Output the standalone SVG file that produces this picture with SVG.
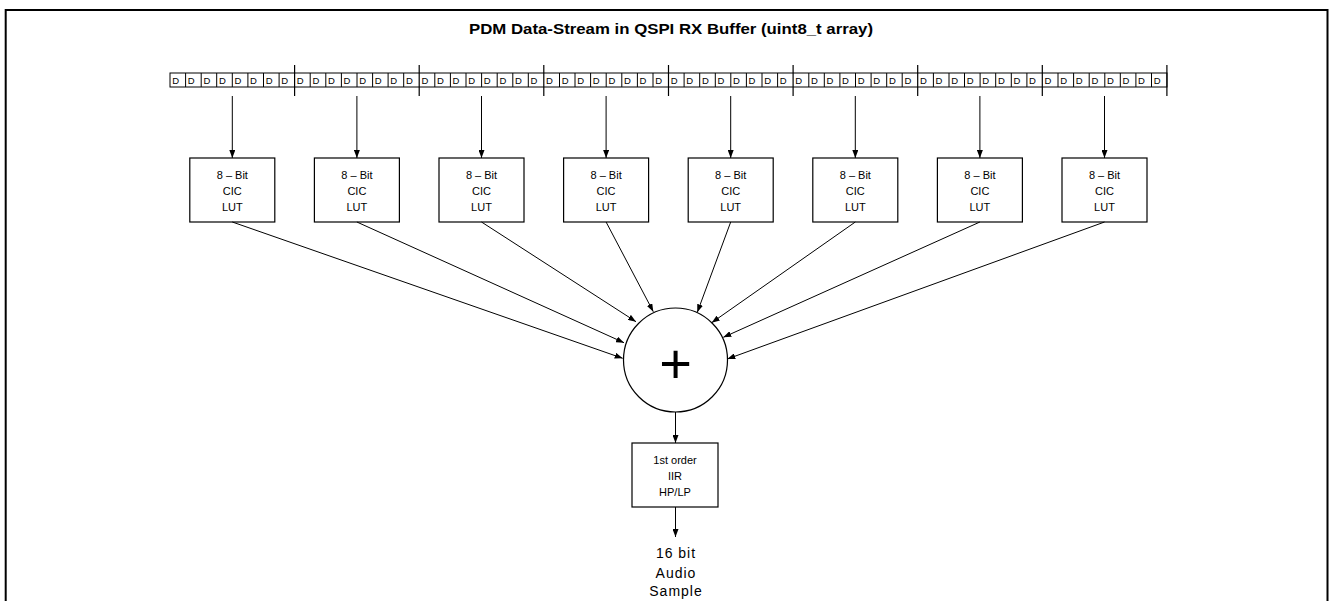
<svg xmlns="http://www.w3.org/2000/svg" width="1330" height="601" viewBox="0 0 1330 601">
  <defs>
    <marker id="ah" viewBox="0 0 8 6" refX="8" refY="3" markerWidth="8" markerHeight="6" markerUnits="userSpaceOnUse" orient="auto">
      <path d="M0,0 L8,3 L0,6 z" fill="#000"/>
    </marker>
  </defs>
  <style>
    .frame { fill: none; stroke: #000; stroke-width: 2; }
    .cell { fill: #fff; stroke: #000; stroke-width: 1; }
    .sep { stroke: #000; stroke-width: 1.2; }
    .box { fill: #fff; stroke: #000; stroke-width: 1.2; }
    .conn { stroke: #000; stroke-width: 1; fill: none; marker-end: url(#ah); }
    .d { font-family: "Liberation Sans", Arial, sans-serif; font-size: 9.5px; fill: #000; }
    .lbl { font-family: "Liberation Sans", Arial, sans-serif; font-size: 11px; fill: #000; text-anchor: middle; }
    .title { font-family: "Liberation Sans", Arial, sans-serif; font-size: 14.5px; font-weight: bold; fill: #000; text-anchor: middle; }
    .out { font-family: "Liberation Sans", Arial, sans-serif; font-size: 14px; fill: #000; text-anchor: middle; letter-spacing: 1px; }
  </style>
  <rect class="frame" x="5.7" y="10" width="1321.8" height="620"/>
  <text class="title" x="671" y="34" textLength="404" lengthAdjust="spacingAndGlyphs">PDM Data-Stream in QSPI RX Buffer (uint8_t array)</text>

  <g id="buffer">
    <g id="cells">
      <rect class="cell" x="170" y="73" width="997" height="14"/>
      <path stroke="#000" stroke-width="1" d="M185.6,73V87M201.2,73V87M216.7,73V87M232.3,73V87M247.9,73V87M263.5,73V87M279.1,73V87M310.2,73V87M325.8,73V87M341.4,73V87M357,73V87M372.6,73V87M388.1,73V87M403.7,73V87M434.8,73V87M450.4,73V87M466,73V87M481.6,73V87M497.2,73V87M512.8,73V87M528.3,73V87M559.5,73V87M575,73V87M590.6,73V87M606.2,73V87M621.8,73V87M637.4,73V87M653,73V87M684.1,73V87M699.7,73V87M715.3,73V87M730.8,73V87M746.4,73V87M762,73V87M777.6,73V87M808.8,73V87M824.3,73V87M839.9,73V87M855.5,73V87M871.1,73V87M886.7,73V87M902.2,73V87M933.4,73V87M949,73V87M964.5,73V87M980.1,73V87M995.7,73V87M1011.3,73V87M1026.9,73V87M1058,73V87M1073.6,73V87M1089.2,73V87M1104.8,73V87M1120.3,73V87M1135.9,73V87M1151.5,73V87"/>
    </g>
    <g id="separators">
      <path class="sep" d="M294.6,65V96M419.2,65V96M543.8,65V96M668.5,65V96M793.1,65V96M917.7,65V96M1042.3,65V96M1166.9,65V96"/>
    </g>
    <g id="bits">
      <text class="d" x="172.2" y="83.6">D</text><text class="d" x="187.8" y="83.6">D</text><text class="d" x="203.4" y="83.6">D</text><text class="d" x="218.9" y="83.6">D</text><text class="d" x="234.5" y="83.6">D</text><text class="d" x="250.1" y="83.6">D</text><text class="d" x="265.7" y="83.6">D</text><text class="d" x="281.3" y="83.6">D</text>
      <text class="d" x="296.8" y="83.6">D</text><text class="d" x="312.4" y="83.6">D</text><text class="d" x="328" y="83.6">D</text><text class="d" x="343.6" y="83.6">D</text><text class="d" x="359.2" y="83.6">D</text><text class="d" x="374.8" y="83.6">D</text><text class="d" x="390.3" y="83.6">D</text><text class="d" x="405.9" y="83.6">D</text>
      <text class="d" x="421.4" y="83.6">D</text><text class="d" x="437" y="83.6">D</text><text class="d" x="452.6" y="83.6">D</text><text class="d" x="468.2" y="83.6">D</text><text class="d" x="483.8" y="83.6">D</text><text class="d" x="499.4" y="83.6">D</text><text class="d" x="515" y="83.6">D</text><text class="d" x="530.5" y="83.6">D</text>
      <text class="d" x="546" y="83.6">D</text><text class="d" x="561.7" y="83.6">D</text><text class="d" x="577.2" y="83.6">D</text><text class="d" x="592.8" y="83.6">D</text><text class="d" x="608.4" y="83.6">D</text><text class="d" x="624" y="83.6">D</text><text class="d" x="639.6" y="83.6">D</text><text class="d" x="655.2" y="83.6">D</text>
      <text class="d" x="670.7" y="83.6">D</text><text class="d" x="686.3" y="83.6">D</text><text class="d" x="701.9" y="83.6">D</text><text class="d" x="717.5" y="83.6">D</text><text class="d" x="733" y="83.6">D</text><text class="d" x="748.6" y="83.6">D</text><text class="d" x="764.2" y="83.6">D</text><text class="d" x="779.8" y="83.6">D</text>
      <text class="d" x="795.3" y="83.6">D</text><text class="d" x="811" y="83.6">D</text><text class="d" x="826.5" y="83.6">D</text><text class="d" x="842.1" y="83.6">D</text><text class="d" x="857.7" y="83.6">D</text><text class="d" x="873.3" y="83.6">D</text><text class="d" x="888.9" y="83.6">D</text><text class="d" x="904.4" y="83.6">D</text>
      <text class="d" x="919.9" y="83.6">D</text><text class="d" x="935.6" y="83.6">D</text><text class="d" x="951.2" y="83.6">D</text><text class="d" x="966.7" y="83.6">D</text><text class="d" x="982.3" y="83.6">D</text><text class="d" x="997.9" y="83.6">D</text><text class="d" x="1013.5" y="83.6">D</text><text class="d" x="1029.1" y="83.6">D</text>
      <text class="d" x="1044.5" y="83.6">D</text><text class="d" x="1060.2" y="83.6">D</text><text class="d" x="1075.8" y="83.6">D</text><text class="d" x="1091.4" y="83.6">D</text><text class="d" x="1107" y="83.6">D</text><text class="d" x="1122.5" y="83.6">D</text><text class="d" x="1138.1" y="83.6">D</text><text class="d" x="1153.7" y="83.6">D</text>
    </g>
  </g>

  <g id="lut1"><rect class="box" x="189.8" y="158" width="85" height="64"/><text class="lbl" x="232.3" y="179">8 – Bit</text><text class="lbl" x="232.3" y="195">CIC</text><text class="lbl" x="232.3" y="211">LUT</text></g>
  <g id="lut2"><rect class="box" x="314.4" y="158" width="85" height="64"/><text class="lbl" x="356.9" y="179">8 – Bit</text><text class="lbl" x="356.9" y="195">CIC</text><text class="lbl" x="356.9" y="211">LUT</text></g>
  <g id="lut3"><rect class="box" x="439" y="158" width="85" height="64"/><text class="lbl" x="481.5" y="179">8 – Bit</text><text class="lbl" x="481.5" y="195">CIC</text><text class="lbl" x="481.5" y="211">LUT</text></g>
  <g id="lut4"><rect class="box" x="563.6" y="158" width="85" height="64"/><text class="lbl" x="606.1" y="179">8 – Bit</text><text class="lbl" x="606.1" y="195">CIC</text><text class="lbl" x="606.1" y="211">LUT</text></g>
  <g id="lut5"><rect class="box" x="688.2" y="158" width="85" height="64"/><text class="lbl" x="730.7" y="179">8 – Bit</text><text class="lbl" x="730.7" y="195">CIC</text><text class="lbl" x="730.7" y="211">LUT</text></g>
  <g id="lut6"><rect class="box" x="812.8" y="158" width="85" height="64"/><text class="lbl" x="855.3" y="179">8 – Bit</text><text class="lbl" x="855.3" y="195">CIC</text><text class="lbl" x="855.3" y="211">LUT</text></g>
  <g id="lut7"><rect class="box" x="937.4" y="158" width="85" height="64"/><text class="lbl" x="979.9" y="179">8 – Bit</text><text class="lbl" x="979.9" y="195">CIC</text><text class="lbl" x="979.9" y="211">LUT</text></g>
  <g id="lut8"><rect class="box" x="1062" y="158" width="85" height="64"/><text class="lbl" x="1104.5" y="179">8 – Bit</text><text class="lbl" x="1104.5" y="195">CIC</text><text class="lbl" x="1104.5" y="211">LUT</text></g>

  <g id="sum">
    <circle cx="675.5" cy="360" r="52" fill="#fff" stroke="#000" stroke-width="1.2"/>
    <text x="675.5" y="383" font-family="Liberation Sans, Arial, sans-serif" font-size="56" text-anchor="middle">+</text>
  </g>

  <g id="iir"><rect class="box" x="632" y="443" width="86" height="64"/><text class="lbl" x="675" y="464">1st order</text><text class="lbl" x="675" y="480">IIR</text><text class="lbl" x="675" y="496">HP/LP</text></g>

  <g id="output"><text class="out" x="676" y="558">16 bit</text><text class="out" x="676" y="578">Audio</text><text class="out" x="676" y="596">Sample</text></g>

  <g id="connectors">
    <line class="conn" x1="232.3" y1="96" x2="232.3" y2="158"/>
    <line class="conn" x1="356.9" y1="96" x2="356.9" y2="158"/>
    <line class="conn" x1="481.5" y1="96" x2="481.5" y2="158"/>
    <line class="conn" x1="606.1" y1="96" x2="606.1" y2="158"/>
    <line class="conn" x1="730.7" y1="96" x2="730.7" y2="158"/>
    <line class="conn" x1="855.3" y1="96" x2="855.3" y2="158"/>
    <line class="conn" x1="979.9" y1="96" x2="979.9" y2="158"/>
    <line class="conn" x1="1104.5" y1="96" x2="1104.5" y2="158"/>
    <line class="conn" x1="232.3" y1="222" x2="622.7" y2="358.3"/>
    <line class="conn" x1="356.9" y1="222" x2="624" y2="342.7"/>
    <line class="conn" x1="481.5" y1="222" x2="636" y2="321.7"/>
    <line class="conn" x1="606.1" y1="222" x2="653.3" y2="311.7"/>
    <line class="conn" x1="730.7" y1="222" x2="697.3" y2="312.3"/>
    <line class="conn" x1="855.3" y1="222" x2="711.7" y2="322.7"/>
    <line class="conn" x1="979.9" y1="222" x2="723.3" y2="337.3"/>
    <line class="conn" x1="1104.5" y1="222" x2="727.3" y2="359"/>
    <line class="conn" x1="675.5" y1="412" x2="675.5" y2="443"/>
    <line class="conn" x1="675.5" y1="507" x2="675.5" y2="537"/>
  </g>
</svg>
